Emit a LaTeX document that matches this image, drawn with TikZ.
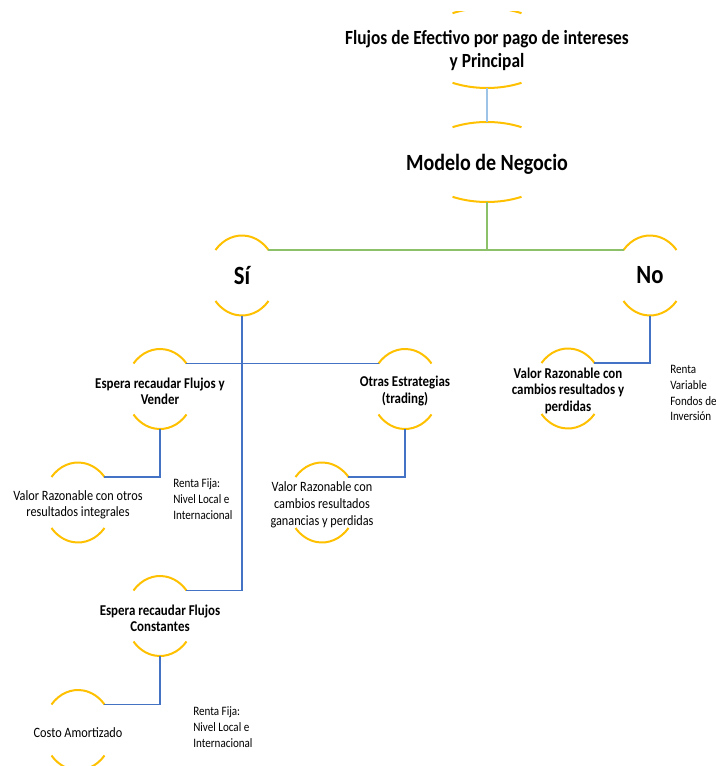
\documentclass[tikz,border=0pt]{standalone}
\usepackage{fontspec}
\setmainfont{Carlito}
\usetikzlibrary{shapes.geometric}
\definecolor{arcc}{RGB}{255,192,0}
\definecolor{lnblue}{RGB}{68,114,196}
\definecolor{ltblue}{RGB}{157,195,230}
\definecolor{lngreen}{RGB}{140,193,105}
\newcommand\ovarcs[4]{%
  \draw[arcst] ([shift={({#2*cos(180+#4)},{#3*sin(180+#4)})}]#1.center) arc[start angle={180+#4}, end angle={360-#4}, x radius=#2, y radius=#3];
  \draw[arcst] ([shift={({#2*cos(#4)},{#3*sin(#4)})}]#1.center) arc[start angle=#4, end angle={180-#4}, x radius=#2, y radius=#3];
}
\begin{document}
\begin{tikzpicture}[x=0.75pt,y=-0.75pt,
  arcst/.style={draw=arcc,line width=1.5pt},
  sm/.style={ellipse,draw=none,inner sep=0pt,outer sep=0pt,minimum width=51.6pt,minimum height=60pt},
  lg/.style={ellipse,draw=none,inner sep=0pt,outer sep=0pt,minimum width=105pt,minimum height=60pt},
  txt/.style={align=center,yscale=1.16,inner sep=0pt},
  dn/.style={yshift=-1.4pt},
  ftop/.style={txt,dn,font=\fontsize{13}{14.9}\selectfont\bfseries},
  fmod/.style={txt,dn,font=\fontsize{15}{18}\selectfont\bfseries},
  fbig/.style={txt,font=\fontsize{17}{20}\selectfont\bfseries},
  fbold/.style={txt,dn,font=\fontsize{9.7}{10.7}\selectfont\bfseries},
  freg/.style={txt,dn,font=\fontsize{9.2}{10.8}\selectfont},
  frenta/.style={txt,align=left,anchor=west,font=\fontsize{8.3}{10.3}\selectfont},
  bline/.style={draw=lnblue,line width=1.2pt},
  lline/.style={draw=ltblue,line width=1.5pt},
  gline/.style={draw=lngreen,line width=1.5pt}]
\useasboundingbox (0,0) rectangle (715,766);
\clip (0,12) rectangle (715,766);
% shapes
\node[lg] (flujos) at (487,48) {};
\node[lg] (modelo) at (487,162) {};
\node[sm] (si) at (242,275.5) {};
\node[sm] (no) at (650,275.5) {};
\node[sm] (ev) at (160,389) {};
\node[sm] (ot) at (405,389) {};
\node[sm] (vrno) at (568,388.5) {};
\node[sm] (vro) at (78,502.5) {};
\node[sm] (vrg) at (322,502.5) {};
\node[sm] (ec) at (160,616) {};
\node[sm] (ca) at (78,730) {};
\ovarcs{flujos}{70}{40}{60.5}
\ovarcs{modelo}{70}{40}{60.5}
\foreach \n in {si,no,ev,ot,vrno,vro,vrg,ec,ca}{\ovarcs{\n}{34.4}{40}{39.6}}
% connectors
\draw[lline] (flujos.south) -- (modelo.north);
\draw[gline] (modelo.south) -- (modelo.south |- si.44);
\draw[gline] (si.44) -- (no.136);
\draw[bline] (si.south) |- (ec.44);
\draw[bline] (ev.44) -- (ot.136);
\draw[bline] (ev.south) |- (vro.44);
\draw[bline] (ot.south) |- (vrg.44);
\draw[bline] (no.south) |- (vrno.44);
\draw[bline] (ec.south) |- (ca.44);
% texts
\node[ftop] (flujos-t) at (flujos) {Flujos de Efectivo por pago de intereses\\y Principal};
\node[fmod] (modelo-t) at (modelo) {Modelo de Negocio};
\node[fbig] (si-t) at (si) {Sí};
\node[fbig] (no-t) at (no) {No};
\node[fbold] (ev-t) at (ev) {Espera recaudar Flujos y\\Vender};
\node[fbold] (ot-t) at (ot) {Otras Estrategias\\(trading)};
\node[fbold] (vrno-t) at (vrno) {Valor Razonable con\\cambios resultados y\\perdidas};
\node[freg] (vro-t) at (vro) {Valor Razonable con otros\\resultados integrales};
\node[freg] (vrg-t) at (vrg) {Valor Razonable con\\cambios resultados\\ganancias y perdidas};
\node[fbold] (ec-t) at (ec) {Espera recaudar Flujos\\Constantes};
\node[freg] (ca-t) at (ca) {Costo Amortizado};
\node[frenta] (rf1) at (173,499) {Renta Fija:\\Nivel Local e\\Internacional};
\node[frenta] (rf2) at (193,727) {Renta Fija:\\Nivel Local e\\Internacional};
\node[frenta] (rv) at (670,393) {Renta\\Variable\\Fondos de\\Inversión};
\end{tikzpicture}
\end{document}
